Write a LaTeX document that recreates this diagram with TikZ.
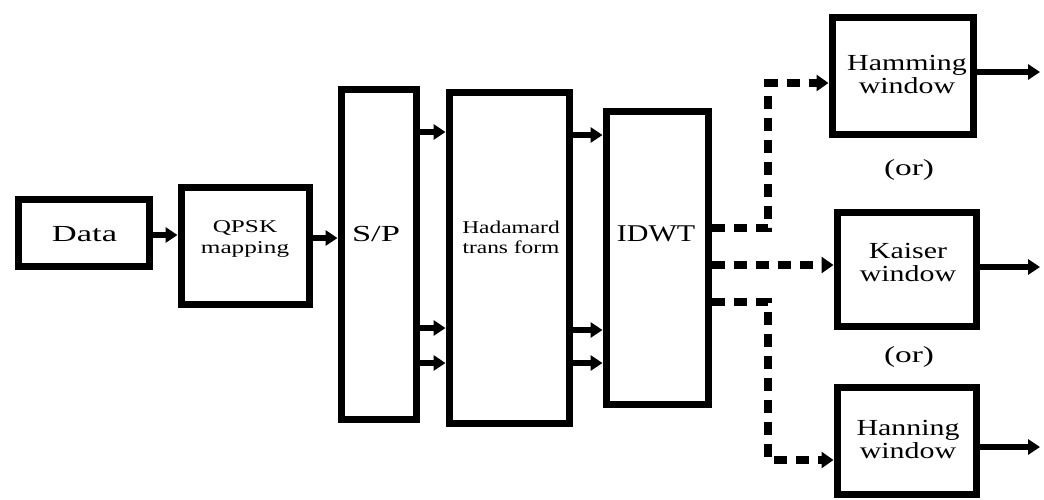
\documentclass[tikz,border=0pt]{standalone}
\usepackage{fontspec}
\setmainfont{Liberation Serif}
\usetikzlibrary{arrows.meta}
\newcommand\stretchtxt[2]{\scalebox{#1}[1]{\begin{tabular}{@{}c@{}}#2\end{tabular}}}
\begin{document}
\begin{tikzpicture}[x=1pt,y=-1pt,
  blk/.style={draw=black,line width=7pt,fill=white,inner sep=0pt},
  lbl/.style={font=\fontsize{#1}{#1}\selectfont,align=center,inner sep=0pt},
  lbl/.default=19,
  arr/.style={line width=5.5pt,-{Triangle[length=12pt,width=15pt]}},
  dl/.style={line width=8pt,dash pattern=on 13pt off 9pt},
  darr/.style={dl,-{Triangle[length=12pt,width=16pt]}}]
\useasboundingbox (0,0) rectangle (1044,499);
% boxes
\node[blk,minimum width=131pt,minimum height=67pt] (data) at (83.5,232.5) {};
\node[blk,minimum width=128pt,minimum height=117pt] (qpsk) at (245,245.5) {};
\node[blk,minimum width=75pt,minimum height=330pt] (sp) at (378.5,254) {};
\node[blk,minimum width=120pt,minimum height=331pt] (had) at (509,257.5) {};
\node[blk,minimum width=102pt,minimum height=293pt] (idwt) at (657,257.5) {};
\node[blk,minimum width=141pt,minimum height=117pt] (ham) at (902.5,75.5) {};
\node[blk,minimum width=139pt,minimum height=114pt] (kai) at (906.5,269) {};
\node[blk,minimum width=139pt,minimum height=107pt] (han) at (906.5,440.5) {};
% texts
\node[lbl=23] at (84.5,237) {\stretchtxt{1.5}{Data}};
\node[lbl=18] at (245,239) {\stretchtxt{1.4}{QPSK\\[3pt]mapping}};
\node[lbl=23] at (376,237) {\stretchtxt{1.5}{S/P}};
\node[lbl=18] at (511,240) {\stretchtxt{1.3}{Hadamard\\[2pt]trans form}};
\node[lbl=24] at (656,237) {\stretchtxt{1.25}{IDWT}};
\node[lbl=23] at (907,77) {\stretchtxt{1.3}{Hamming\\window}};
\node[lbl=23] at (908,265) {\stretchtxt{1.3}{Kaiser\\window}};
\node[lbl=23] at (908,442) {\stretchtxt{1.3}{Hanning\\window}};
\node[lbl=23] (or1) at (909,171) {\stretchtxt{1.45}{(or)}};
\node[lbl=23] (or2) at (909,358) {\stretchtxt{1.45}{(or)}};
% solid arrows
\draw[arr] (data.east |- 0,235) -- (qpsk.west |- 0,235);
\draw[arr] (qpsk.east |- 0,238) -- (sp.west |- 0,238);
\foreach \y in {132,328,363} \draw[arr] (sp.east |- 0,\y) -- (had.west |- 0,\y);
\foreach \y in {135,330,363} \draw[arr] (had.east |- 0,\y) -- (idwt.west |- 0,\y);
% outputs
\coordinate (o1) at (1040,72);
\coordinate (o2) at (1040,267);
\coordinate (o3) at (1040,447);
\draw[arr] (ham.east |- o1) -- (o1);
\draw[arr] (kai.east |- o2) -- (o2);
\draw[arr] (han.east |- o3) -- (o3);
% dashed connectors
\coordinate (j1) at (768,228);
\coordinate (j2) at (768,83);
\coordinate (j3) at (768,302);
\coordinate (j4) at (768,460);
\draw[darr] (idwt.east |- j1) -- (j1) -- (j2) -- (ham.west |- j2);
\draw[darr] (idwt.east |- 0,265) -- (kai.west |- 0,265);
\draw[darr] (idwt.east |- j3) -- (j3) -- (j4) -- (han.west |- j4);
\end{tikzpicture}
\end{document}
